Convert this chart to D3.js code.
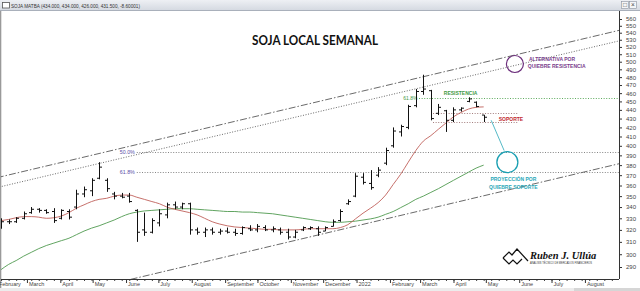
<!DOCTYPE html>
<html>
<head>
<meta charset="utf-8" />
<title>Soja local semanal</title>
<script src="https://d3js.org/d3.v7.min.js"></script>
<style>
  body { margin: 0; background: #fff; }
  svg { display: block; font-family: "Liberation Sans", Arial, sans-serif; }
</style>
</head>
<body>
<svg width="640" height="291"></svg>
<script>
// weekly OHLC bars, first bar dated Friday 2021-02-05
const firstBar = "2021-02-05";
const opens  = [323,327,327,330,335,338,337,336,330,336, 340,352,355,367,365,352,350,350,337,320,
                318,326,333,342,340,343,320,318,320,318, 319,318,317,321,320,322,320,320,318,314,
                320,321,321,319,323,328,343,350,368,362, 370,382,400,415,420,445,462,463,436,439,
                428,440,450,449,434];
const highs  = [330,329,331,336,340,339,338,339,338,338, 356,359,367,383,367,354,353,353,338,335,
                330,338,344,345,344,344,322,322,322,321, 322,321,323,324,325,324,323,322,321,320,
                323,323,323,323,329,338,347,372,372,375, 378,398,420,423,446,465,483,464,447,440,
                443,443,455,450,434];
const lows   = [321,325,326,329,334,335,334,326,329,329, 338,349,350,366,354,347,348,344,310,315,
                317,323,330,338,338,316,316,314,316,316, 317,315,316,319,318,319,318,316,312,313,
                319,320,315,319,323,327,342,349,361,356, 368,380,398,410,418,443,458,428,434,415,
                426,438,449,443,426];
const closes = [327,327,330,334,338,337,335,328,337,331, 352,356,365,378,357,350,349,345,318,318,
                328,334,342,340,343,320,318,320,318,319, 318,317,322,320,323,320,321,318,314,318,
                322,322,318,322,327,336,345,369,363,358, 375,395,416,421,444,462,465,430,443,428,
                440,442,453,444,431.5];

// moving averages, one value per bar
const maShort = [328,329,330.5,331.5,331.5,331,330,330.5,332,335, 339,342,345,347,348,350,351,351,349,347,
                 345,343,340,338,336.5,335,333,330,327,325, 323.5,322.5,322,321.5,321,320.5,320.5,320,320,320,
                 320.5,321,321,321,321,322,324.5,329.5,334.5,339, 344,351,361,371,383,395,405,411,418,425,
                 432,437,441,443,443.5];
const maLong  = [288,292,295,298.5,301.5,304.5,307,309,311,313, 316,319,321.5,323.5,326,328.5,331.5,334,335.5,336.5,
                 337,337.5,338,338.5,338.5,338.5,338,337.5,337,336.5, 336,336,335.5,335.5,335,334.5,334,333,332,331,
                 330,329,328,327,326.5,326.5,327,327.5,328.5,329.5, 331,333.5,336,339.5,343,347,350,353.5,357,361,
                 365,369,373,377,380];

const priceTicks = [290,300,310,320,330,340,350,360,370,380,390,400,410,420,430,440,450,460,470,480,490,500,510,520,530,540,550,560];
const monthTicks = ["2021-02-01","2021-03-01","2021-04-01","2021-05-01","2021-06-01","2021-07-01","2021-08-01",
                    "2021-09-01","2021-10-01","2021-11-01","2021-12-01","2022-01-01","2022-02-01","2022-03-01",
                    "2022-04-01","2022-05-01","2022-06-01","2022-07-01","2022-08-01"];

// channel and level lines [date, price]
const channelTop    = [["2021-02-01", 367.5], ["2022-09-02", 543.5]];
const channelTopDot = [["2021-02-01", 358], ["2022-09-02", 528.5]];
const channelLow    = [["2021-02-01", 258], ["2022-09-02", 381.5]];
const fibLabels = ["50.0%", "61.8%"];
const fibValues = [393.5, 373.2];
const fibStart = "2021-06-11";
const resistValue = 454, resistStart = "2022-02-28";
const supportValues = [436.5, 426.1];
const supportRange = ["2022-03-13", "2022-05-31"];

const svg = d3.select("svg");
const parse = d3.timeParse("%Y-%m-%d");
const plot = { left: 1, right: 619, top: 11, bottom: 279 };

const x = d3.scaleTime().domain([parse("2021-02-04"), parse("2022-08-28")]).range([0, 614]);
const y = d3.scaleLog().domain([560, 290]).range([19, 267]);

const dates = d3.timeFriday.range(parse(firstBar), d3.timeDay.offset(parse(firstBar), 7 * opens.length));
const bars = dates.map((d, i) => ({ date: d, o: opens[i], h: highs[i], l: lows[i], c: closes[i] }));

svg.append("clipPath").attr("id", "clip")
  .append("rect").attr("x", plot.left).attr("y", plot.top)
  .attr("width", plot.right - plot.left).attr("height", plot.bottom - plot.top);

// title bar of the window
const grad = svg.append("defs").append("linearGradient").attr("id", "bar").attr("x2", 0).attr("y2", 1);
grad.append("stop").attr("offset", 0).attr("stop-color", "#eef0f4");
grad.append("stop").attr("offset", 1).attr("stop-color", "#d3d8e0");
svg.append("rect").attr("width", 640).attr("height", 11).attr("fill", "url(#bar)");
svg.append("line").attr("x1", 0).attr("x2", 640).attr("y1", 10.5).attr("y2", 10.5).attr("stroke", "#a9b0bb");
svg.append("rect").attr("x", 2.5).attr("y", 2.5).attr("width", 7).attr("height", 5.5)
  .attr("fill", "#fff").attr("stroke", "#555").attr("stroke-width", 0.8);
svg.append("text").attr("x", 11).attr("y", 7.6).attr("font-size", 5.3).attr("fill", "#333")
  .attr("textLength", 129).attr("lengthAdjust", "spacingAndGlyphs")
  .text("SOJA MATBA (434.000, 434.000, 426.000, 431.500, -8.60001)");
[[621.5, "\u25A1"], [629.5, "\u00D7"]].forEach(([bx, s]) => {
  svg.append("rect").attr("x", bx).attr("y", 1.5).attr("width", 7).attr("height", 7)
    .attr("fill", "#f4f5f7").attr("stroke", "#8a929e").attr("stroke-width", 0.6);
  svg.append("text").attr("x", bx + 3.5).attr("y", 7.3).attr("text-anchor", "middle")
    .attr("font-size", 6.5).attr("fill", "#444").text(s);
});

// left window border and bottom strip
svg.append("rect").attr("x", 0).attr("y", 11).attr("width", 1.3).attr("height", 280).attr("fill", "#9a9a9a");
svg.append("rect").attr("x", 0).attr("y", 288).attr("width", 640).attr("height", 3).attr("fill", "#ececec");
svg.append("rect").attr("x", 574).attr("y", 288).attr("width", 66).attr("height", 3).attr("fill", "#d6d6d6");

const g = svg.append("g").attr("clip-path", "url(#clip)");

const pxLine = d3.line().x(d => x(parse(d[0]))).y(d => y(d[1]));

// channel lines
g.append("path").attr("d", pxLine(channelTop)).attr("fill", "none")
  .attr("stroke", "#444").attr("stroke-width", 0.8).attr("stroke-dasharray", "7,2,1.5,2");
g.append("path").attr("d", pxLine(channelTopDot)).attr("fill", "none")
  .attr("stroke", "#444").attr("stroke-width", 0.8).attr("stroke-dasharray", "1,1.6");
g.append("path").attr("d", pxLine(channelLow)).attr("fill", "none")
  .attr("stroke", "#444").attr("stroke-width", 0.8).attr("stroke-dasharray", "7,2,1.5,2");

// fibonacci levels
fibValues.forEach((v, i) => {
  const yy = Math.round(y(v)) + 0.5;
  g.append("line").attr("x1", x(parse(fibStart))).attr("x2", plot.right).attr("y1", yy).attr("y2", yy)
    .attr("stroke", "#666").attr("stroke-width", 0.8).attr("stroke-dasharray", "1,1.6");
  g.append("text").attr("x", x(parse(fibStart)) - 2).attr("y", yy + 1.8).attr("text-anchor", "end")
    .attr("font-size", 5.3).attr("fill", "#5a4fa6").text(fibLabels[i]);
});

// resistance
const ry = Math.round(y(resistValue)) + 0.5;
g.append("line").attr("x1", x(parse(resistStart))).attr("x2", plot.right).attr("y1", ry).attr("y2", ry)
  .attr("stroke", "#4aa04a").attr("stroke-width", 0.9).attr("stroke-dasharray", "1,1.6");
g.append("text").attr("x", x(parse(resistStart)) - 1.5).attr("y", ry + 1.8).attr("text-anchor", "end")
  .attr("font-size", 5).attr("fill", "#3f9a45").text("61.8%");
g.append("text").attr("x", x(parse("2022-03-23"))).attr("y", ry - 3.5)
  .attr("font-size", 5).attr("font-weight", "bold").attr("fill", "#3f9a45").text("RESISTENCIA");

// support zone
supportValues.forEach(v => {
  const yy = Math.round(y(v)) + 0.5;
  g.append("line").attr("x1", x(parse(supportRange[0]))).attr("x2", x(parse(supportRange[1])))
    .attr("y1", yy).attr("y2", yy)
    .attr("stroke", "#8a5a5a").attr("stroke-width", 0.8).attr("stroke-dasharray", "1,1.6");
});
g.append("text").attr("x", x(parse("2022-05-13"))).attr("y", y(430) + 2)
  .attr("font-size", 5).attr("font-weight", "bold").attr("fill", "#c0282d").text("SOPORTE");

// moving averages
const maLine = d3.line().x(d => x(d[0])).y(d => y(d[1])).curve(d3.curveMonotoneX);
g.append("path").attr("d", maLine(dates.map((d, i) => [d, maLong[i]])))
  .attr("fill", "none").attr("stroke", "#4f9a4f").attr("stroke-width", 0.9);
g.append("path").attr("d", maLine(dates.map((d, i) => [d, maShort[i]])))
  .attr("fill", "none").attr("stroke", "#c0605a").attr("stroke-width", 0.9);

// OHLC bars
g.append("g").selectAll("path").data(bars).join("path")
  .attr("d", d => {
    const bx = Math.round(x(d.date)) + 0.5;
    return `M${bx},${y(d.h)}V${y(d.l)}M${bx - 2.5},${y(d.o)}H${bx}M${bx},${y(d.c)}H${bx + 2.5}`;
  })
  .attr("fill", "none").attr("stroke", "#111").attr("stroke-width", 1);

// scenario annotations
const alt = { date: "2022-05-28", price: 497 };
g.append("circle").attr("cx", x(parse(alt.date))).attr("cy", y(alt.price)).attr("r", 8.5)
  .attr("fill", "none").attr("stroke", "#6b2d7b").attr("stroke-width", 1.2);
g.append("text").attr("x", x(parse("2022-06-10"))).attr("y", y(497) - 2.5)
  .attr("font-size", 5).attr("font-weight", "bold").attr("fill", "#7a3d8c").text("ALTERNATIVA POR");
g.append("text").attr("x", x(parse("2022-06-09"))).attr("y", y(497) + 4.5)
  .attr("font-size", 5).attr("font-weight", "bold").attr("fill", "#7a3d8c").text("QUIEBRE RESISTENCIA");

const proj = { date: "2022-05-21", price: 383 };
g.append("path").attr("d", pxLine([["2022-05-06", 428], ["2022-05-18", 395]]))
  .attr("stroke", "#2aa7b8").attr("stroke-width", 0.8).attr("fill", "none");
g.append("circle").attr("cx", x(parse(proj.date))).attr("cy", y(proj.price)).attr("r", 10.5)
  .attr("fill", "none").attr("stroke", "#1a9fb2").attr("stroke-width", 1.3);
g.append("text").attr("x", x(parse(proj.date)) + 6).attr("y", y(proj.price) + 18.5).attr("text-anchor", "middle")
  .attr("font-size", 5).attr("font-weight", "bold").attr("fill", "#2aa7b8").text("PROYECCIÓN POR");
g.append("text").attr("x", x(parse(proj.date)) + 6).attr("y", y(proj.price) + 26.5).attr("text-anchor", "middle")
  .attr("font-size", 5).attr("font-weight", "bold").attr("fill", "#2aa7b8").text("QUIEBRE SOPORTE");

// chart title
svg.append("text").attr("x", 315).attr("y", 44.5).attr("text-anchor", "middle")
  .attr("font-family", "Lato, 'Open Sans', sans-serif").attr("font-weight", "bold").attr("font-size", 12.5)
  .attr("textLength", 126).attr("lengthAdjust", "spacingAndGlyphs").attr("fill", "#111")
  .text("SOJA LOCAL SEMANAL");

// author logo
const logo = svg.append("g").attr("transform", "translate(503,249)");
logo.append("path").attr("d", "M0,9L6,3L9,6L14,0L25,12M0,9L6,15L10,11L14,15L19,10")
  .attr("fill", "none").attr("stroke", "#111").attr("stroke-width", 1.2);
logo.append("text").attr("x", 27).attr("y", 9.5).attr("font-family", "'Liberation Serif', serif")
  .attr("font-style", "italic").attr("font-weight", "bold").attr("font-size", 10.5).attr("fill", "#111")
  .text("Ruben J. Ullúa");
logo.append("text").attr("x", 27).attr("y", 14.5).attr("font-size", 2.6).attr("fill", "#333")
  .attr("textLength", 62).attr("lengthAdjust", "spacingAndGlyphs")
  .text("ANÁLISIS TÉCNICO DE MERCADOS FINANCIEROS");

// right price axis
const yAxis = svg.append("g").attr("transform", `translate(${plot.right},0)`)
  .call(d3.axisRight(y).tickValues(priceTicks).tickSize(3).tickPadding(4).tickFormat(d3.format("d")));
yAxis.select(".domain").attr("d", `M0.5,${plot.top}V${plot.bottom}`).attr("stroke", "#333");
yAxis.selectAll("text").attr("font-size", 6).attr("fill", "#444").attr("font-family", "'Liberation Sans', Arial");
yAxis.selectAll("line").attr("stroke", "#333");

// bottom time axis
const xMinor = svg.append("g").attr("transform", `translate(0,${plot.bottom})`)
  .call(d3.axisBottom(x).tickValues(d3.timeFriday.range(parse("2021-02-05"), parse("2022-09-01")))
    .tickSize(2).tickFormat(""));
xMinor.select(".domain").remove();
xMinor.selectAll("line").attr("stroke", "#444");

const xAxis = svg.append("g").attr("transform", `translate(0,${plot.bottom})`)
  .call(d3.axisBottom(x).tickValues(monthTicks.map(parse)).tickSize(4).tickPadding(2)
    .tickFormat(d => d.getMonth() === 0 ? d3.timeFormat("%Y")(d) : d3.timeFormat("%B")(d)));
xAxis.select(".domain").attr("d", `M${plot.left},0.5H${plot.right}`).attr("stroke", "#333");
xAxis.selectAll("line").attr("stroke", "#333");
xAxis.selectAll("text").attr("text-anchor", "start").attr("dx", 1.5).attr("y", 3.5)
  .attr("font-size", 5.5).attr("fill", "#444").attr("font-family", "'Liberation Sans', Arial");
</script>
</body>
</html>
